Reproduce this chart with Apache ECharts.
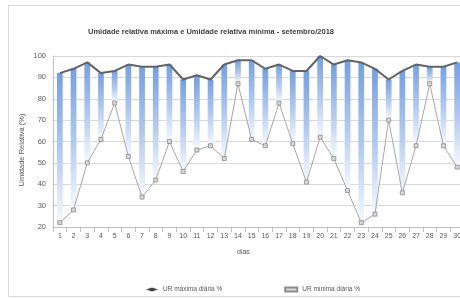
<!DOCTYPE html>
<html>
<head>
<meta charset="utf-8">
<script src="https://cdn.jsdelivr.net/npm/echarts@6/dist/echarts.min.js"></script>
<style>
  html, body { margin: 0; padding: 0; background: #fff; }
  #chart { width: 460px; height: 299px; }
</style>
</head>
<body>
<div id="chart"></div>
<script>
var dias = ["1", "2", "3", "4", "5", "6", "7", "8", "9", "10", "11", "12", "13", "14", "15",
  "16", "17", "18", "19", "20", "21", "22", "23", "24", "25", "26", "27", "28", "29", "30"];
var urMaxima = [92, 94, 97, 92, 93, 96, 95, 95, 96, 89, 91, 89, 96, 98, 98,
  94, 96, 93, 93, 100, 96, 98, 97, 94, 89, 93, 96, 95, 95, 97];
var urMinima = [22, 28, 50, 61, 78, 53, 34, 42, 60, 46, 56, 58, 52, 87, 61,
  58, 78, 59, 41, 62, 52, 37, 22, 26, 70, 36, 58, 87, 58, 48];

// altura da barra flutuante (min -> max)
var faixa = urMaxima.map(function (v, i) { return v - urMinima[i]; });

var fonte = "Liberation Sans";
var chart = echarts.init(document.getElementById("chart"));
chart.setOption({
  animation: false,
  title: {
    text: "Umidade relativa máxima e Umidade relativa mínima - setembro/2018",
    left: 206,
    top: 23,
    textAlign: "center",
    textStyle: { fontFamily: fonte, fontSize: 7.5, fontWeight: "bold", color: "#404040" }
  },
  graphic: [
    {
      type: "rect",
      shape: { x: 8.5, y: 5.5, width: 470, height: 291 },
      style: { fill: "none", stroke: "#d9d9d9", lineWidth: 1 },
      silent: true
    },
    {
      type: "text",
      left: 237,
      top: 249,
      style: { text: "dias", fontFamily: fonte, fontSize: 7, fill: "#595959" }
    },
    {
      type: "text",
      x: 22,
      y: 150,
      rotation: Math.PI / 2,
      style: {
        text: "Umidade Relativa (%)", fontFamily: fonte, fontSize: 7.5, fill: "#595959",
        align: "center", verticalAlign: "middle"
      }
    }
  ],
  legend: {
    left: 141,
    top: 281,
    itemGap: 62,
    itemWidth: 12,
    itemHeight: 4,
    textStyle: { fontFamily: fonte, fontSize: 6.5, color: "#595959" },
    data: [
      { name: "UR máxima diária %", icon: "diamond" },
      { name: "UR mínima diária %", icon: "rect" }
    ]
  },
  grid: { left: 53, width: 411, top: 56, height: 171, outerBoundsMode: "none" },
  xAxis: {
    type: "category",
    data: dias,
    axisLine: { lineStyle: { color: "#bfbfbf" } },
    axisTick: { show: true, lineStyle: { color: "#bfbfbf" } },
    axisLabel: { fontFamily: fonte, fontSize: 7, color: "#595959", margin: 6, interval: 0 }
  },
  yAxis: {
    type: "value",
    min: 20,
    max: 100,
    interval: 10,
    axisLine: { show: true, lineStyle: { color: "#bfbfbf" } },
    axisTick: { show: false },
    axisLabel: { fontFamily: fonte, fontSize: 7.5, color: "#595959", margin: 7 },
    splitLine: { lineStyle: { color: "#d9d9d9" } }
  },
  series: [
    {
      type: "bar",
      stack: "ur",
      data: urMinima,
      barWidth: "42%",
      itemStyle: { color: "transparent" },
      silent: true
    },
    {
      type: "bar",
      stack: "ur",
      data: faixa,
      barWidth: "42%",
      itemStyle: {
        color: new echarts.graphic.LinearGradient(0, 0, 0, 1, [
          { offset: 0, color: "#759fe0" },
          { offset: 0.55, color: "#b6ccf0" },
          { offset: 1, color: "#f7faff" }
        ])
      }
    },
    {
      name: "UR máxima diária %",
      type: "line",
      data: urMaxima,
      symbol: "none",
      lineStyle: { color: "#636363", width: 2 },
      itemStyle: { color: "#404040" },
      z: 5
    },
    {
      name: "UR mínima diária %",
      type: "line",
      data: urMinima,
      symbol: "rect",
      symbolSize: 4,
      lineStyle: { color: "#a6a6a6", width: 1 },
      itemStyle: { color: "#d9d9d9", borderColor: "#8c8c8c", borderWidth: 0.8 },
      z: 5
    }
  ]
});
</script>
</body>
</html>
